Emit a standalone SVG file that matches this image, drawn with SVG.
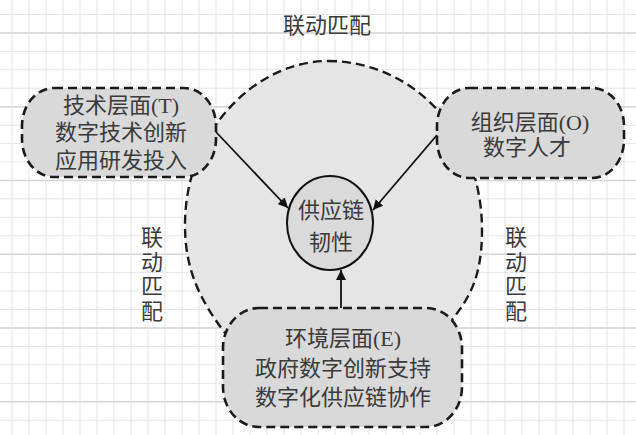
<svg xmlns="http://www.w3.org/2000/svg" width="636" height="435" viewBox="0 0 636 435">
<defs>
<style>
.minor{stroke:#e4e4e4;stroke-width:1}
.major{stroke:#d6d6d6;stroke-width:1.6}
.dash{stroke:#1a1a1a;stroke-width:2.6;stroke-dasharray:9 5;fill:#d9d9d9}
.blob{stroke:#1a1a1a;stroke-width:2.4;stroke-dasharray:9 5;fill:#e5e5e5}
.t{font-family:"Liberation Serif","Noto Sans CJK SC",serif;font-size:22px;fill:#3a3a3a;text-anchor:middle}
.conn{stroke:#111;stroke-width:1.8;fill:none}
</style>
<marker id="ah" viewBox="0 0 10 10" refX="10" refY="5" markerWidth="10" markerHeight="10" markerUnits="userSpaceOnUse" orient="auto">
<path d="M0,0 L10,5 L0,10 z" fill="#111"/>
</marker>
<pattern id="gminor" x="11.5" y="14" width="17" height="18.44" patternUnits="userSpaceOnUse">
<path d="M0.5,0 V18.44 M0,0.5 H17" class="minor" fill="none"/>
</pattern>
</defs>
<rect width="636" height="435" fill="#fff"/>
<rect width="636" height="435" fill="url(#gminor)"/>
<g id="grid-major">
<path class="major" d="M0,33 H636 M0,106.75 H636 M0,180.5 H636 M0,254.25 H636 M0,328 H636 M0,401.75 H636"/>
</g>
<g id="blob">
<path class="blob" d="M328,61 C410,61 482,130 482,230 C482,280 468,300 448,325 L400,380 L280,380 L225,333 C200,300 185,270 185,225 C185,130 257,61 328,61 Z"/>
</g>
<g id="labels">
<text class="t" x="327" y="33">联动匹配</text>
<text class="t" x="152" y="245">联</text>
<text class="t" x="152" y="270">动</text>
<text class="t" x="152" y="294">匹</text>
<text class="t" x="152" y="319">配</text>
<text class="t" x="516" y="245">联</text>
<text class="t" x="516" y="270">动</text>
<text class="t" x="516" y="294">匹</text>
<text class="t" x="516" y="319">配</text>
</g>
<g id="node-T">
<rect class="dash" x="22" y="88" width="194" height="89" rx="32" ry="38"/>
<text class="t" x="121" y="113">技术层面(T)</text>
<text class="t" x="121" y="140">数字技术创新</text>
<text class="t" x="121" y="168">应用研发投入</text>
</g>
<g id="node-O">
<rect class="dash" x="437" y="88" width="187" height="90" rx="32" ry="38"/>
<text class="t" x="530" y="130">组织层面(O)</text>
<text class="t" x="527" y="155">数字人才</text>
</g>
<g id="node-E">
<rect class="dash" x="223" y="308" width="239" height="119" rx="36" ry="40"/>
<text class="t" x="343" y="346">环境层面(E)</text>
<text class="t" x="343" y="376">政府数字创新支持</text>
<text class="t" x="343" y="405">数字化供应链协作</text>
</g>
<g id="node-core">
<ellipse cx="330" cy="223" rx="43" ry="47" fill="#dadada" stroke="#111" stroke-width="2"/>
<text class="t" x="331" y="218">供应链</text>
<text class="t" x="331" y="250">韧性</text>
</g>
<g id="connectors">
<line class="conn" x1="216" y1="132" x2="288" y2="208" marker-end="url(#ah)"/>
<line class="conn" x1="437" y1="135" x2="373" y2="210" marker-end="url(#ah)"/>
<line class="conn" x1="341" y1="308" x2="341" y2="270" marker-end="url(#ah)"/>
</g>
</svg>
